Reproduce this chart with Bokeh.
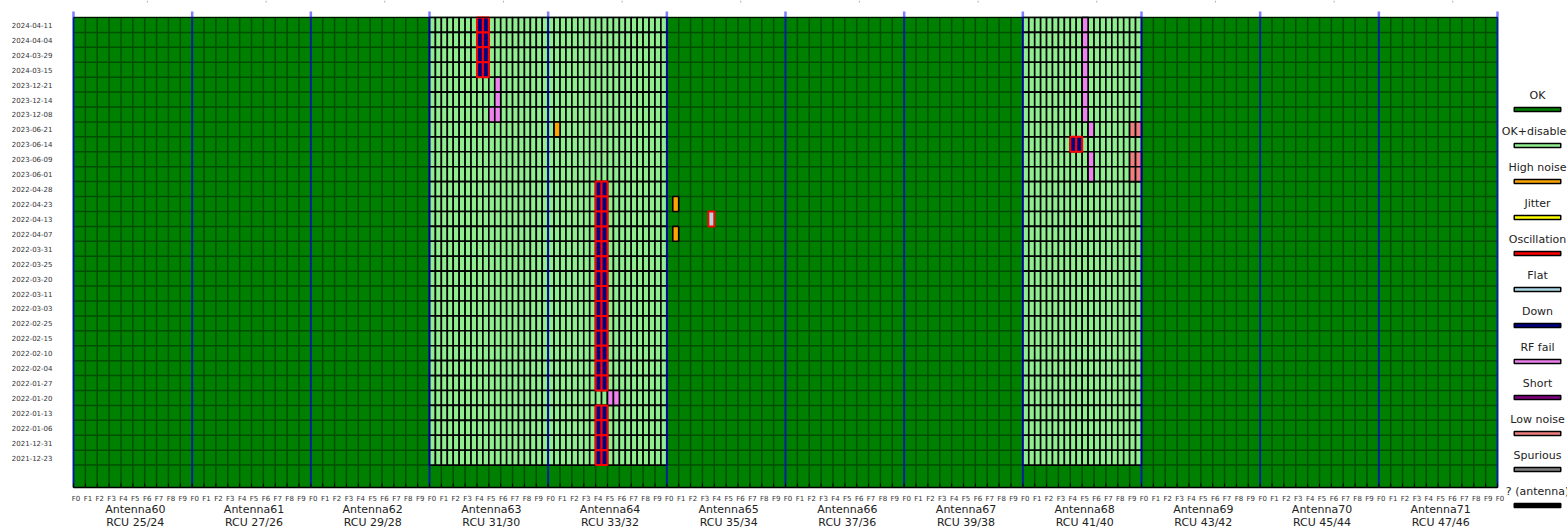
from bokeh.plotting import figure
from bokeh.models import Range1d, FixedTicker
from bokeh.embed import file_html
from bokeh.resources import INLINE
from bokeh.core.properties import value

# ---------------- data ----------------
dates = ["2024-04-11", "2024-04-04", "2024-03-29", "2024-03-15", "2023-12-21",
         "2023-12-14", "2023-12-08", "2023-06-21", "2023-06-14", "2023-06-09",
         "2023-06-01", "2022-04-28", "2022-04-23", "2022-04-13", "2022-04-07",
         "2022-03-31", "2022-03-25", "2022-03-20", "2022-03-11", "2022-03-03",
         "2022-02-25", "2022-02-15", "2022-02-10", "2022-02-04", "2022-01-27",
         "2022-01-20", "2022-01-13", "2022-01-06", "2021-12-31", "2021-12-23"]
antennas = ["Antenna60", "Antenna61", "Antenna62", "Antenna63", "Antenna64", "Antenna65",
            "Antenna66", "Antenna67", "Antenna68", "Antenna69", "Antenna70", "Antenna71"]
rcus = ["RCU 25/24", "RCU 27/26", "RCU 29/28", "RCU 31/30", "RCU 33/32", "RCU 35/34",
        "RCU 37/36", "RCU 39/38", "RCU 41/40", "RCU 43/42", "RCU 45/44", "RCU 47/46"]
f_labels = ["F0", "F1", "F2", "F3", "F4", "F5", "F6", "F7", "F8", "F9"]
disabled_antennas = ["Antenna63", "Antenna64", "Antenna68"]

statuses = ["OK", "OK+disabled", "High noise", "Jitter", "Oscillation", "Flat",
            "Down", "RF fail", "Short", "Low noise", "Spurious", "? (antenna)"]
status_colors = ["green", "lightgreen", "orange", "yellow", "red", "lightblue",
                 "navy", "violet", "purple", "lightcoral", "gray", "black"]

# flagged cells (runs of dates, sub-bar index 0..19 inside the antenna)
ev_antenna = ["Antenna63", "Antenna63", "Antenna63", "Antenna64", "Antenna64", "Antenna64",
              "Antenna64", "Antenna65", "Antenna65", "Antenna65", "Antenna68", "Antenna68",
              "Antenna68", "Antenna68", "Antenna68", "Antenna68"]
ev_newest = ["2024-04-11", "2023-12-21", "2023-12-08", "2023-06-21", "2022-04-28", "2022-01-20",
             "2022-01-13", "2022-04-23", "2022-04-13", "2022-04-07", "2024-04-11", "2023-06-21",
             "2023-06-21", "2023-06-14", "2023-06-09", "2023-06-09"]
ev_oldest = ["2024-03-15", "2023-12-14", "2023-12-08", "2023-06-21", "2022-01-27", "2022-01-20",
             "2021-12-23", "2022-04-23", "2022-04-13", "2022-04-07", "2023-12-08", "2023-06-21",
             "2023-06-21", "2023-06-14", "2023-06-01", "2023-06-01"]
ev_bar_first = [8, 11, 10, 1, 8, 10, 8, 1, 7, 1, 10, 11, 18, 8, 11, 18]
ev_bar_last = [9, 11, 11, 1, 9, 11, 9, 1, 7, 1, 10, 11, 19, 9, 11, 19]
ev_fill = ["Down", "RF fail", "RF fail", "High noise", "Down", "RF fail", "Down", "High noise",
           "Flat", "High noise", "RF fail", "RF fail", "Low noise", "Down", "RF fail", "Low noise"]
ev_edge = ["Oscillation", "", "", "", "Oscillation", "", "Oscillation", "", "Oscillation", "",
           "", "", "", "Oscillation", "", ""]

# ---------------- layout constants ----------------
FONT = "DejaVu Sans"
W, H = 1567, 529
n_ant = len(antennas)
nf = len(f_labels)
n_rows = len(dates)
NX = n_ant * nf
color_of = dict(zip(statuses, status_colors))

GRID_L = 73.0                   # page x of the grid's left edge
GRID_T = 17.0                   # page y of the grid's top edge
GRID_W = 1424.0                 # px for the 120 F columns
XP = GRID_W / NX                # px per F column
BORDER_L, BORDER_T = 71, 0
FRAME_W = W - BORDER_L
FRAME_H = H - BORDER_T

PITCH = 14.92                   # px per date row
Y_BOT = -2.0                    # axis line position
Y_TOP_GRID = n_rows - 0.5
Y_TOP = Y_TOP_GRID + (GRID_T - BORDER_T) / PITCH
Y_FRAME_BOT = Y_TOP - FRAME_H / PITCH
X0 = -(GRID_L - BORDER_L) / XP
X1 = X0 + FRAME_W / XP

def px_x(page_x):       # page px -> data x
    return (page_x - GRID_L) / XP

def px_y(page_y):       # page px -> data y
    return Y_TOP - (page_y - BORDER_T) / PITCH

p = figure(width=W, height=H, x_range=Range1d(X0, X1), y_range=Range1d(Y_FRAME_BOT, Y_TOP),
           output_backend="svg", toolbar_location=None, x_axis_type=None, title=None,
           min_border_left=BORDER_L, min_border_right=0,
           min_border_top=BORDER_T, min_border_bottom=0)
p.background_fill_color = "white"
p.border_fill_color = "white"
p.outline_line_color = None
p.ygrid.grid_line_color = None

def row_y(d):
    return n_rows - 1 - dates.index(d)

# green (OK) plot area with dark cell boundaries
p.quad(left=[0], right=[NX], bottom=[Y_BOT], top=[Y_TOP_GRID],
       fill_color=color_of["OK"], line_color=None)
gx = list(range(NX + 1))
p.segment(x0=gx, x1=gx, y0=[Y_BOT] * len(gx), y1=[Y_TOP_GRID] * len(gx),
          line_color="#004f00", line_width=1.5)
gy = [i - 0.5 for i in range(n_rows + 1)]
p.segment(x0=[0] * len(gy), x1=[NX] * len(gy), y0=gy, y1=gy,
          line_color="#004f00", line_width=1.5)

# disabled antennas: two bars per F column
L, R, B, T = [], [], [], []
for a in disabled_antennas:
    ai = antennas.index(a)
    for d in dates:
        y = row_y(d)
        for k in range(2 * nf):
            L.append(ai * nf + k * 0.5); R.append(ai * nf + (k + 1) * 0.5)
            B.append(y - 0.5); T.append(y + 0.5)
p.quad(left=L, right=R, bottom=B, top=T, fill_color=color_of["OK+disabled"],
       line_color="black", line_width=1.6)

# flagged cells, black-edged first, red-edged last
for want_edge in ["", "Oscillation"]:
    L, R, B, T, C = [], [], [], [], []
    for i in range(len(ev_antenna)):
        if ev_edge[i] != want_edge:
            continue
        ai = antennas.index(ev_antenna[i])
        r0, r1 = dates.index(ev_newest[i]), dates.index(ev_oldest[i])
        for r in range(r0, r1 + 1):
            y = n_rows - 1 - r
            for k in range(ev_bar_first[i], ev_bar_last[i] + 1):
                L.append(ai * nf + k * 0.5); R.append(ai * nf + (k + 1) * 0.5)
                B.append(y - 0.5); T.append(y + 0.5)
                C.append(color_of[ev_fill[i]])
    p.quad(left=L, right=R, bottom=B, top=T, fill_color=C,
           line_color=("black" if want_edge == "" else color_of[want_edge]),
           line_width=(1.6 if want_edge == "" else 2.0))

# top edge line
p.segment(x0=[0], x1=[NX], y0=[Y_TOP_GRID], y1=[Y_TOP_GRID],
          line_color="black", line_alpha=0.8, line_width=1.2)

# antenna boundaries (+ light stubs above the grid)
bx = [ai * nf for ai in range(n_ant + 1)]
p.segment(x0=bx, x1=bx, y0=[Y_BOT] * len(bx), y1=[Y_TOP_GRID] * len(bx),
          line_color="blue", line_alpha=0.6, line_width=2)
p.segment(x0=bx, x1=bx, y0=[Y_TOP_GRID] * len(bx), y1=[px_y(11)] * len(bx),
          line_color="blue", line_alpha=0.5, line_width=2.5)

# small grey marks at the very top (cut-off upper axis)
centers = [ai * nf + nf / 2 for ai in range(n_ant)]
mx = [c + 14.6 / XP for c in centers]
p.segment(x0=mx, x1=mx, y0=[px_y(0)] * n_ant, y1=[px_y(2)] * n_ant,
          line_color="#aaaaaa", line_width=1)

# bottom axis: line, inward ticks, F labels
fx = list(range(NX + 1))
p.segment(x0=[0], x1=[NX], y0=[Y_BOT], y1=[Y_BOT], line_color="black", line_width=1.5)
p.segment(x0=fx, x1=fx, y0=[Y_BOT] * len(fx), y1=[Y_BOT + 4.0 / PITCH] * len(fx),
          line_color="black", line_width=1)
p.text(x=fx, y=[px_y(498.0)] * len(fx), text=[f_labels[i % nf] for i in fx],
       x_offset=2.5, text_align="center", text_baseline="alphabetic",
       text_font=value(FONT), text_font_size="7px", text_color="#333333")

# antenna names and RCU labels
for labels, base_y in [(antennas, 508.5), (rcus, 522.0)]:
    p.text(x=centers, y=[px_y(base_y)] * n_ant, text=labels,
           x_offset=2.5, text_align="center", text_baseline="alphabetic",
           text_font=value(FONT), text_font_size="11px", text_color="#222222")

# y axis: dates
p.yaxis.ticker = FixedTicker(ticks=list(range(n_rows)))
p.yaxis.major_label_overrides = {row_y(d): d for d in dates}
p.yaxis.major_label_text_font = FONT
p.yaxis.major_label_text_font_size = "7px"
p.yaxis.major_label_text_color = "#333333"
p.yaxis.major_tick_line_color = None
p.yaxis.major_tick_out = 0
p.yaxis.major_tick_in = 0
p.yaxis.minor_tick_line_color = None
p.yaxis.axis_line_color = None
p.yaxis.major_label_standoff = 19

# ---------------- legend (right margin, drawn through the same scales) ----------------
lx = px_x(1537)
sw_page = [109 + 36 * i for i in range(len(statuses))]
p.rect(x=[lx] * len(statuses), y=[px_y(v) for v in sw_page], width=46.5 / XP, height=4.0 / PITCH,
       fill_color=status_colors, line_color="black", line_width=1.5)
p.text(x=[lx] * len(statuses), y=[px_y(v - 14) for v in sw_page], text=statuses,
       text_align="center", text_baseline="alphabetic", text_font_size="11px",
       text_color="#222222", text_font=value(FONT))

open("out.html", "w").write(file_html(p, INLINE))
